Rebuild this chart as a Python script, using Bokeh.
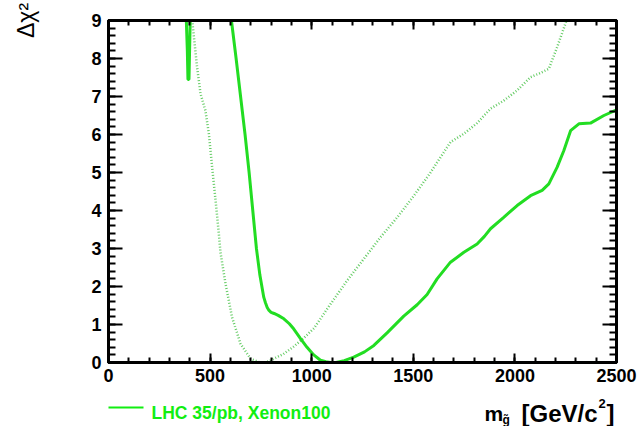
from bokeh.plotting import figure
from bokeh.layouts import column
from bokeh.models import Range1d, LinearAxis, FixedTicker, CustomJSTickFormatter
from bokeh.core.properties import value
from bokeh.embed import file_html
from bokeh.resources import INLINE

# ---- data ----
# LHC 35/pb, Xenon100 (solid)
solid_x = [605, 628, 650, 672, 692, 710, 728, 745, 764, 772, 781, 790, 800, 815, 835,
           863, 890, 912, 945, 977, 1010, 1043, 1070, 1093, 1120, 1160, 1207, 1260,
           1306, 1371, 1453, 1519, 1568, 1617, 1683, 1749, 1814, 1850, 1880, 1945,
           2011, 2077, 2134, 2167, 2208, 2241, 2274, 2315, 2372, 2438, 2500]
solid_y = [9.0, 8.0, 7.0, 6.0, 5.0, 4.0, 3.0, 2.3, 1.72, 1.58, 1.45, 1.37, 1.32, 1.29, 1.24,
           1.15, 1.02, 0.88, 0.63, 0.40, 0.2, 0.06, 0.02, 0.0, 0.0, 0.05, 0.14, 0.28,
           0.45, 0.78, 1.22, 1.52, 1.79, 2.2, 2.64, 2.9, 3.12, 3.32, 3.52, 3.82,
           4.13, 4.39, 4.53, 4.70, 5.14, 5.58, 6.1, 6.28, 6.3, 6.5, 6.65]
# small solid branch near 390 GeV
branch_x = [383, 388, 391, 396, 399, 402]
branch_y = [9.0, 8.2, 7.45, 7.45, 8.2, 9.0]
# LHC (dotted)
dotted_x = [412, 436, 453, 477, 494, 510, 527, 543, 551, 576, 608, 650, 699, 740,
            764, 790, 813, 860, 912, 960, 1011, 1093, 1175, 1257, 1339, 1421, 1503,
            1585, 1634, 1683, 1749, 1814, 1880, 1945, 2011, 2077, 2126, 2167, 2208, 2254]
dotted_y = [9.0, 7.77, 7.07, 6.63, 6.02, 5.14, 4.26, 3.39, 2.9, 2.07, 1.19, 0.49, 0.1, 0.01,
            0.0, 0.03, 0.1, 0.22, 0.42, 0.64, 0.9, 1.54, 2.16, 2.73, 3.3, 3.82, 4.39,
            5.0, 5.4, 5.8, 6.02, 6.3, 6.68, 6.89, 7.16, 7.51, 7.62, 7.73, 8.3, 9.0]

x_ticks = [0, 500, 1000, 1500, 2000, 2500]
x_minor = list(range(0, 2501, 100))
y_ticks = [0, 1, 2, 3, 4, 5, 6, 7, 8, 9]
y_minor = [i * 0.2 for i in range(0, 46)]

legend_labels = ["LHC 35/pb, Xenon100", "LHC"]
y_title = "\u0394\u03c7\u00b2"
x_title_parts = ["m", "g\u0303", "[GeV/c", "2", "]"]

SOLID = "#22dd22"
DOT = "#66cc66"
LEG = "#11ee11"
FONT = "Liberation Sans"

# ---------------- main plot ----------------
p = figure(width=644, height=392, output_backend="svg", toolbar_location=None,
           x_range=Range1d(0, 2500), y_range=Range1d(0, 9),
           min_border_left=108, min_border_right=28, min_border_top=20,
           min_border_bottom=30, x_axis_location=None, y_axis_location=None)
p.grid.visible = False
p.outline_line_color = "black"
p.outline_line_width = 3
p.background_fill_color = "white"
p.border_fill_color = "white"

def style(ax, major_in, minor_in, labels=True):
    ax.axis_line_width = 3
    ax.axis_line_color = "black"
    ax.major_tick_in = major_in
    ax.major_tick_out = 0
    ax.minor_tick_in = minor_in
    ax.minor_tick_out = 0
    ax.major_tick_line_width = 2
    ax.minor_tick_line_width = 2
    ax.major_label_text_font = FONT
    ax.major_label_text_font_style = "bold"
    ax.major_label_text_font_size = "18px"
    ax.major_label_text_color = "black"
    if not labels:
        ax.formatter = CustomJSTickFormatter(code="return ''")
        ax.major_label_standoff = 0

xb = LinearAxis(ticker=FixedTicker(ticks=x_ticks, minor_ticks=x_minor))
style(xb, 9, 5)
xb.major_label_standoff = 6
xt = LinearAxis(ticker=FixedTicker(ticks=x_ticks, minor_ticks=x_minor))
style(xt, 9, 5, labels=False)
yl = LinearAxis(ticker=FixedTicker(ticks=y_ticks, minor_ticks=y_minor))
style(yl, 14, 7)
yl.major_label_standoff = 7
yl.axis_label = y_title
yl.axis_label_text_font = FONT
yl.axis_label_text_font_style = "normal"
yl.axis_label_text_font_size = "23px"
yl.axis_label_text_color = "black"
yl.axis_label_standoff = 49
yl.axis_label_align = "end"
yr = LinearAxis(ticker=FixedTicker(ticks=y_ticks, minor_ticks=y_minor))
style(yr, 14, 7, labels=False)
p.add_layout(xb, "below")
p.add_layout(xt, "above")
p.add_layout(yl, "left")
p.add_layout(yr, "right")

p.line(dotted_x, dotted_y, line_color=DOT, line_width=2.5, line_dash="1 2")
p.line(solid_x, solid_y, line_color=SOLID, line_width=3)
p.line(branch_x, branch_y, line_color=SOLID, line_width=3)

# ---------------- strip below: legend + x-axis title (canvas pixel coords) ----------------
# its frame is aligned with the main frame (108..616), so x range = canvas pixels
q = figure(width=644, height=34, output_backend="svg", toolbar_location=None,
           x_range=Range1d(108, 616), y_range=Range1d(34, 0),
           min_border_left=108, min_border_right=28, min_border_top=0,
           min_border_bottom=0, x_axis_location=None, y_axis_location=None)
q.grid.visible = False
q.outline_line_color = None
q.background_fill_color = "white"
q.border_fill_color = "white"

# legend entries
q.line([106, 143], [15, 15], line_color=LEG, line_width=2)
q.text(x=[151, 189], y=[20, 40], text=legend_labels, text_color=LEG,
       text_font=value(FONT), text_font_style="bold", text_font_size="17.5px",
       text_baseline="alphabetic", text_align="left")

# x-axis title  m_g~ [GeV/c^2]
def tx(x, y, t, size):
    q.text(x=[x], y=[y], text=[t], text_color="black", text_font=value(FONT),
           text_font_style="bold", text_font_size=size,
           text_baseline="alphabetic", text_align="left")
tx(484, 21, x_title_parts[0], "21px")
tx(502, 27, x_title_parts[1], "12px")
tx(521, 21, x_title_parts[2], "24px")
tx(598, 11, x_title_parts[3], "13px")
tx(606, 21, x_title_parts[4], "24px")

layout = column(p, q, spacing=0)
open("out.html", "w").write(file_html(layout, INLINE))
